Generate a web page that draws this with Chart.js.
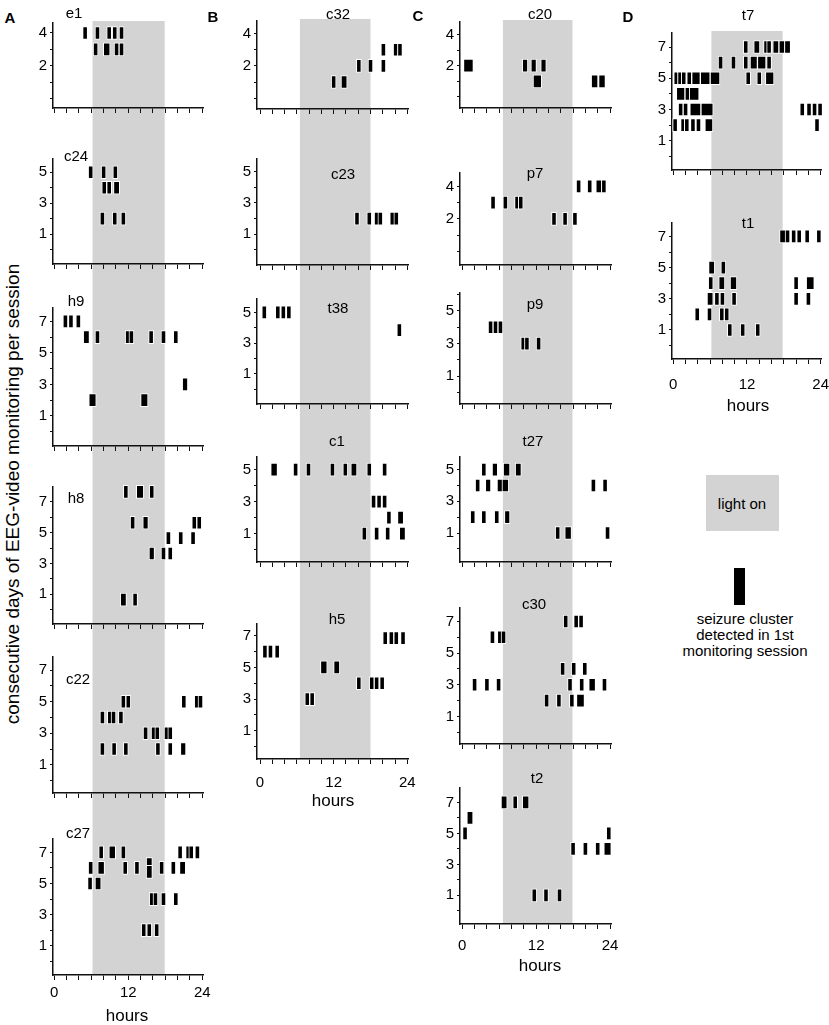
<!DOCTYPE html>
<html>
<head>
<meta charset="utf-8">
<script src="https://cdn.jsdelivr.net/npm/chart.js@4.4.1/dist/chart.umd.min.js"></script>
<style>
  body { margin: 0; background: #fff; font-family: "Liberation Sans", Arial, sans-serif; }
  #page { position: relative; width: 829px; height: 1025px; overflow: hidden; }
  canvas { position: absolute; }
  .t { position: absolute; transform: translate(-50%, -50%); white-space: nowrap; color: #000; line-height: 1; z-index: 2; }
  .letter { font-weight: bold; font-size: 15px; }
  .name { font-size: 15px; }
  .hours { font-size: 17px; }
  .legend { font-size: 15px; }
  #ytitle { position: absolute; left: 12px; top: 494px; transform: translate(-50%, -50%) rotate(-90deg); font-size: 19px; white-space: nowrap; line-height: 1; }
  #lightbox { position: absolute; left: 706px; top: 475px; width: 73px; height: 56px; background: #d3d3d3; }
  #clusterbar { position: absolute; left: 734px; top: 568px; width: 11px; height: 37px; background: #000; }
</style>
</head>
<body>
<div id="page">
  <div id="ytitle">consecutive days of EEG-video monitoring per session</div>
  <div id="lightbox"></div>
  <div class="t legend" style="left:742px;top:503px">light on</div>
  <div id="clusterbar"></div>
  <div class="t legend" style="left:745px;top:618px">seizure cluster</div>
  <div class="t legend" style="left:745px;top:634px">detected in 1st</div>
  <div class="t legend" style="left:745px;top:650px">monitoring session</div>
</div>
<script>
// Constantes
const GRAY = '#d3d3d3';
const X_TICKS = [0, 2, 4, 6, 8, 10, 12, 14, 16, 18, 20, 22, 24];
const X_LABELS = [0, 12, 24];
const Y_EVEN = [2, 4];
const Y_ODD5 = [1, 3, 5];
const Y_ODD7 = [1, 3, 5, 7];

// clusters: [day, hour, duration in hours]
const e1 = [
  [4, 5.0, .8], [4, 7.0, .8], [4, 8.9, .8], [4, 9.8, .8], [4, 10.9, .8],
  [3, 6.7, .8], [3, 8.5, 1.1], [3, 10.1, .8], [3, 10.9, .8]
];
const c24 = [
  [5, 5.9, .8], [5, 8.0, .8], [5, 9.9, .8],
  [4, 8.1, .8], [4, 8.9, .8], [4, 10.1, 1.0],
  [2, 7.8, .8], [2, 9.8, .8], [2, 11.2, .8]
];
const h9 = [
  [7, 1.8, .8], [7, 2.7, .8], [7, 3.9, .8],
  [6, 5.2, 1.0], [6, 7.0, .8], [6, 11.9, .8], [6, 12.5, .8], [6, 15.7, .8], [6, 17.7, .8], [6, 19.7, .8],
  [3, 21.2, .9],
  [2, 6.2, 1.2], [2, 14.6, 1.2]
];
const h8 = [
  [7.65, 11.6, .8], [7.65, 13.9, 1.2], [7.65, 15.8, .8],
  [5.65, 12.7, .8], [5.65, 14.8, .9], [5.65, 22.7, .8], [5.65, 23.5, .8],
  [4.65, 18.5, .8], [4.65, 20.5, .8], [4.65, 22.5, .8],
  [3.65, 15.8, .9], [3.65, 17.7, .8], [3.65, 18.8, .8],
  [0.65, 11.2, 1.0], [0.65, 13.1, .8]
];
const c22 = [
  [5, 11.2, .8], [5, 12.0, .8], [5, 21.0, .8], [5, 23.1, .8], [5, 23.7, .8],
  [4, 7.8, .8], [4, 9.0, .8], [4, 9.6, .8], [4, 10.8, .8],
  [3, 14.8, .8], [3, 16.1, .8], [3, 16.7, .8], [3, 18.2, .8], [3, 18.8, .8],
  [2, 7.8, .8], [2, 9.7, .8], [2, 11.6, .8], [2, 16.8, .8], [2, 18.8, .8], [2, 20.9, .9]
];
const c27 = [
  [7, 7.6, .8], [7, 9.4, 1.1], [7, 11.2, .8], [7, 20.4, .8], [7, 21.7, .8], [7, 22.2, .8], [7, 23.2, .8],
  [6, 5.9, .8], [6, 7.6, 1.1], [6, 11.5, .8], [6, 13.4, .8], [6.25, 15.4, 1.0], [5.75, 15.4, 1.0],
  [6, 17.4, .8], [6, 19.3, .8], [6, 20.8, 1.0],
  [5, 5.8, .8], [5, 7.1, 1.0],
  [4, 15.8, .8], [4, 16.4, .8], [4, 17.7, .8], [4, 19.7, .8],
  [2, 14.5, .8], [2, 15.4, .8], [2, 16.6, .8]
];
const c32 = [
  [3, 20.1, .8], [3, 22.1, .8], [3, 22.8, .8],
  [2, 16.1, .8], [2, 18.0, .8], [2, 20.1, .8],
  [1, 12.0, .8], [1, 13.7, 1.0]
];
const c23 = [
  [2, 15.8, .8], [2, 17.8, .8], [2, 19.0, .8], [2, 19.6, .8], [2, 21.6, .9], [2, 22.2, .8]
];
const t38 = [
  [5, 0.7, .8], [5, 2.9, .8], [5, 3.8, .8], [5, 4.7, .8],
  [3.85, 22.7, .8]
];
const c1 = [
  [5, 2.3, 1.1], [5, 5.8, .8], [5, 7.9, .8], [5, 11.8, .8], [5, 13.9, .8], [5, 15.3, 1.0], [5, 17.8, .8], [5, 20.3, .8],
  [3, 18.5, .8], [3, 19.4, .8], [3, 20.3, .8],
  [2, 21.0, .8], [2, 22.9, 1.0],
  [1, 17.0, .8], [1, 19.0, .8], [1, 20.8, .8], [1, 23.2, 1.0]
];
const h5 = [
  [6.85, 20.4, .8], [6.85, 21.4, .8], [6.85, 22.2, .8], [6.85, 23.3, .8],
  [6, 0.8, .8], [6, 1.7, .8], [6, 2.8, .8],
  [5, 10.4, 1.1], [5, 12.5, 1.0],
  [4, 16.1, .8], [4, 18.2, .8], [4, 19.0, .8], [4, 19.9, .8],
  [3, 7.7, .8], [3, 8.5, .8]
];
const c20 = [
  [2, 1.0, 1.6], [2, 10.2, .9], [2, 11.6, .9], [2, 13.2, .9],
  [1, 12.2, 1.4], [1, 21.5, 1.1], [1, 22.7, 1.1]
];
const p7 = [
  [4, 18.9, .8], [4, 20.7, .8], [4, 22.2, 1.0], [4, 23.0, .8],
  [3, 5.0, .8], [3, 7.0, .8], [3, 8.9, .8], [3, 9.5, .8],
  [2, 14.9, .8], [2, 16.7, .8], [2, 18.3, .8]
];
const p9 = [
  [4, 4.6, .8], [4, 5.4, .8], [4, 6.2, .8],
  [3, 9.9, .8], [3, 10.5, .8], [3, 12.4, .8]
];
const t27 = [
  [5, 3.5, .8], [5, 5.3, .9], [5, 7.2, 1.1], [5, 9.1, 1.0],
  [4, 2.5, .8], [4, 4.2, .9], [4, 6.1, .9], [4, 7.0, 1.1], [4, 21.3, .8], [4, 23.2, .8],
  [2, 1.7, .8], [2, 3.5, .8], [2, 5.6, .8], [2, 7.3, .9],
  [1, 15.5, .8], [1, 17.2, 1.1], [1, 23.6, .8]
];
const c30 = [
  [7, 16.8, .8], [7, 18.5, .8], [7, 19.3, .8],
  [6, 4.9, .8], [6, 6.1, .8], [6, 6.7, .8],
  [4, 16.3, .8], [4, 18.1, .8], [4, 19.9, .8],
  [3, 2.0, .8], [3, 4.0, .8], [3, 5.9, .8], [3, 17.5, .8], [3, 19.4, .8], [3, 21.1, 1.1], [3, 23.1, .8],
  [2, 13.7, .8], [2, 15.7, .8], [2, 17.8, .8], [2, 19.2, 1.3]
];
const t2 = [
  [7, 6.8, 1.0], [7, 8.6, .8], [7, 10.3, 1.1],
  [6, 1.25, 1.0],
  [5, 0.45, .8], [5, 23.8, .8],
  [4, 18.0, .8], [4, 20.0, .8], [4, 22.0, .8], [4, 23.6, 1.2],
  [1, 11.7, .8], [1, 13.6, .8], [1, 15.8, .8]
];
const t7 = [
  [7, 11.8, .8], [7, 13.6, 1.0], [7, 15.1, .8], [7, 15.6, .8], [7, 16.7, 1.0], [7, 17.7, 1.0], [7, 18.6, 1.0],
  [6, 7.7, .8], [6, 9.8, .8], [6, 11.8, .8], [6, 13.1, 1.2], [6, 14.4, 1.4], [6, 15.6, .8],
  [5, 0.4, .8], [5, 1.1, .8], [5, 1.7, .8], [5, 2.6, .8], [5, 3.7, 1.4], [5, 5.2, 1.6], [5, 6.8, 1.6],
  [5, 12.2, .8], [5, 14.0, .8], [5, 15.7, 1.4],
  [4, 1.2, 1.4], [4, 2.3, .8], [4, 3.4, 1.6],
  [3, 1.2, .8], [3, 2.0, .8], [3, 3.6, 1.8], [3, 5.5, 2.0], [3, 21.0, .8], [3, 22.1, .8], [3, 23.0, .8], [3, 23.9, .8],
  [2, 0.3, .8], [2, 1.6, .8], [2, 2.2, .8], [2, 3.2, .8], [2, 4.1, .8], [2, 5.8, 1.3], [2, 23.4, .8]
];
const t1 = [
  [7, 17.8, 1.0], [7, 18.6, .8], [7, 19.6, .8], [7, 20.5, .8], [7, 21.8, .8], [7, 23.7, .8],
  [5, 6.25, 1.0], [5, 8.15, .8],
  [4, 6.1, .8], [4, 7.9, 1.0], [4, 9.8, 1.1], [4, 20.0, .8], [4, 22.3, 1.3],
  [3, 6.0, 1.0], [3, 7.1, .8], [3, 8.0, .8], [3, 9.9, .8], [3, 20.0, .8], [3, 22.0, .8],
  [2, 3.9, .8], [2, 5.9, .8], [2, 7.9, .8], [2, 8.7, .8],
  [1, 9.2, .8], [1, 11.3, .8], [1, 13.75, .8]
];

// Columnas (posiciones en px de la página)
const COLS = {
  A: { left: 53, right: 203, xMin: -0.21, xMax: 24.11, light: [6.2, 17.9], tickPad: 4, letter: [10, 17], hours: [127, 1015] },
  B: { left: 257, right: 408, xMin: -0.49, xMax: 24.11, light: [6.5, 18.0], tickPad: 10, letter: [213, 16], hours: [333, 800] },
  C: { left: 460, right: 611, xMin: -0.37, xMax: 24.16, light: [6.6, 17.9], tickPad: 8, letter: [418, 15], hours: [540, 965] },
  D: { left: 672, right: 821, xMin: -0.21, xMax: 24.05, light: [6.2, 17.8], tickPad: 12, letter: [628, 16], hours: [748, 405] }
};

// Paneles: top/bottom = y del eje, min/max = rango de días
const PANELS = [
  { col: 'A', name: 'e1',  top: 23,  bottom: 108, min: -0.59, max: 4.61, labels: Y_EVEN, data: e1,  nx: 74,  ny: 12 },
  { col: 'A', name: 'c24', top: 159, bottom: 264, min: -0.94, max: 5.86, labels: Y_ODD5, data: c24, nx: 76,  ny: 155 },
  { col: 'A', name: 'h9',  top: 308, bottom: 446, min: -0.91, max: 7.85, labels: Y_ODD7, data: h9,  nx: 76,  ny: 300 },
  { col: 'A', name: 'h8',  top: 487, bottom: 624, min: -0.93, max: 7.97, labels: Y_ODD7, data: h8,  nx: 76,  ny: 497 },
  { col: 'A', name: 'c22', top: 657, bottom: 793, min: -0.79, max: 7.84, labels: Y_ODD7, data: c22, nx: 78,  ny: 678 },
  { col: 'A', name: 'c27', top: 839, bottom: 975, min: -0.88, max: 7.86, labels: Y_ODD7, data: c27, nx: 78,  ny: 832 },
  { col: 'B', name: 'c32', top: 21,  bottom: 109, min: -0.67, max: 4.78, labels: Y_EVEN, data: c32, nx: 338, ny: 13 },
  { col: 'B', name: 'c23', top: 159, bottom: 265, min: -0.96, max: 5.81, labels: Y_ODD5, data: c23, nx: 343, ny: 173 },
  { col: 'B', name: 't38', top: 299, bottom: 404, min: -0.95, max: 5.87, labels: Y_ODD5, data: t38, nx: 338, ny: 307 },
  { col: 'B', name: 'c1',  top: 457, bottom: 562, min: -0.78, max: 5.79, labels: Y_ODD5, data: c1,  nx: 337, ny: 440 },
  { col: 'B', name: 'h5',  top: 624, bottom: 759, min: -0.78, max: 7.74, labels: Y_ODD7, data: h5,  nx: 337, ny: 618 },
  { col: 'C', name: 'c20', top: 22,  bottom: 108, min: -0.71, max: 4.80, labels: Y_EVEN, data: c20, nx: 540, ny: 13 },
  { col: 'C', name: 'p7',  top: 173, bottom: 265, min: -0.85, max: 4.83, labels: Y_EVEN, data: p7,  nx: 535, ny: 172 },
  { col: 'C', name: 'p9',  top: 293, bottom: 404, min: -0.70, max: 6.10, labels: Y_ODD5, data: p9,  nx: 535, ny: 303 },
  { col: 'C', name: 't27', top: 457, bottom: 562, min: -0.83, max: 5.80, labels: Y_ODD5, data: t27, nx: 533, ny: 440 },
  { col: 'C', name: 'c30', top: 608, bottom: 744, min: -0.74, max: 7.85, labels: Y_ODD7, data: c30, nx: 534, ny: 603 },
  { col: 'C', name: 't2',  top: 788, bottom: 924, min: -0.85, max: 7.93, labels: Y_ODD7, data: t2,  nx: 537, ny: 777 },
  { col: 'D', name: 't7',  top: 33,  bottom: 170, min: -0.88, max: 7.90, labels: Y_ODD7, data: t7,  nx: 748, ny: 14 },
  { col: 'D', name: 't1',  top: 223, bottom: 359, min: -0.86, max: 7.86, labels: Y_ODD7, data: t1,  nx: 748, ny: 222 }
];

const Y_AXIS_W = 30;
const RIGHT_PAD = 8;

// franja gris "light on", continua entre paneles de una columna
const lightPlugin = {
  id: 'lightOn',
  beforeDraw(chart, args, opts) {
    const { ctx, chartArea } = chart;
    const x = chart.scales.x;
    const x0 = x.getPixelForValue(opts.from);
    const x1 = x.getPixelForValue(opts.to);
    const y0 = opts.first ? chartArea.top - 2 : 0;
    const y1 = opts.last ? chartArea.bottom : chart.height;
    ctx.save();
    ctx.fillStyle = GRAY;
    ctx.fillRect(x0, y0, x1 - x0, y1 - y0);
    ctx.restore();
  }
};

Chart.defaults.font.family = '"Liberation Sans", Arial, sans-serif';
Chart.defaults.color = '#000';

const page = document.getElementById('page');

function addText(cls, text, x, y) {
  const d = document.createElement('div');
  d.className = 't ' + cls;
  d.textContent = text;
  d.style.left = x + 'px';
  d.style.top = y + 'px';
  page.appendChild(d);
}

function makePanel(p, canvasTop, first, last) {
  const col = COLS[p.col];
  const xAxisH = last ? 34 : 8;
  const left = col.left - Y_AXIS_W;
  const width = col.right - col.left + Y_AXIS_W + RIGHT_PAD;
  const height = p.bottom + xAxisH - canvasTop;

  const canvas = document.createElement('canvas');
  canvas.width = width;
  canvas.height = height;
  canvas.style.left = left + 'px';
  canvas.style.top = canvasTop + 'px';
  canvas.style.width = width + 'px';
  canvas.style.height = height + 'px';
  page.appendChild(canvas);

  const yTicks = [];
  for (let v = 0; v <= Math.floor(p.max); v++) yTicks.push(v);

  new Chart(canvas, {
    type: 'bar',
    data: {
      datasets: [{
        data: p.data.map(([day, hour, len]) => ({ y: day, x: [hour - len / 2, hour + len / 2] })),
        backgroundColor: '#000',
        borderColor: '#fff',
        borderWidth: 1,
        borderSkipped: false,
        barThickness: 13,
        clip: false
      }]
    },
    options: {
      indexAxis: 'y',
      responsive: false,
      animation: false,
      devicePixelRatio: 1,
      layout: { padding: { top: p.top - canvasTop, right: RIGHT_PAD, left: 0, bottom: 0 } },
      plugins: {
        legend: { display: false },
        tooltip: { enabled: false },
        lightOn: { from: col.light[0], to: col.light[1], first: first, last: last }
      },
      scales: {
        x: {
          type: 'linear',
          min: col.xMin,
          max: col.xMax,
          afterFit: s => {
            s.height = xAxisH;
            s.paddingLeft = 0;
            s.paddingRight = 0;
          },
          afterBuildTicks: s => { s.ticks = X_TICKS.map(v => ({ value: v })); },
          grid: { drawOnChartArea: false, tickLength: 5, color: '#111', lineWidth: 1 },
          border: { color: '#111', width: 1.5 },
          ticks: {
            autoSkip: false, maxRotation: 0, padding: col.tickPad,
            font: { size: 15 }, color: '#000',
            callback: v => (last && X_LABELS.includes(v)) ? String(v) : ''
          }
        },
        y: {
          type: 'linear',
          min: p.min,
          max: p.max,
          offset: false,
          afterFit: s => {
            s.width = Y_AXIS_W;
            s.paddingTop = 0;
            s.paddingBottom = 0;
          },
          afterBuildTicks: s => { s.ticks = yTicks.map(v => ({ value: v })); },
          grid: { offset: false, drawOnChartArea: false, tickLength: 3, color: '#111', lineWidth: 1 },
          border: { color: '#111', width: 1.5 },
          ticks: {
            autoSkip: false, padding: 3, font: { size: 15 }, color: '#000',
            callback: v => p.labels.includes(v) ? String(v) : ''
          }
        }
      }
    },
    plugins: [lightPlugin]
  });

  addText('name', p.name, p.nx, p.ny);
  return p.bottom + xAxisH;
}

// Inicialización: una columna a la vez, los lienzos se apilan sin huecos
Object.keys(COLS).forEach(key => {
  const col = COLS[key];
  const panels = PANELS.filter(p => p.col === key);
  let y = panels[0].top - 12;
  panels.forEach((p, i) => {
    y = makePanel(p, y, i === 0, i === panels.length - 1);
  });
  addText('letter', key, col.letter[0], col.letter[1]);
  addText('hours', 'hours', col.hours[0], col.hours[1]);
});
</script>
</body>
</html>
